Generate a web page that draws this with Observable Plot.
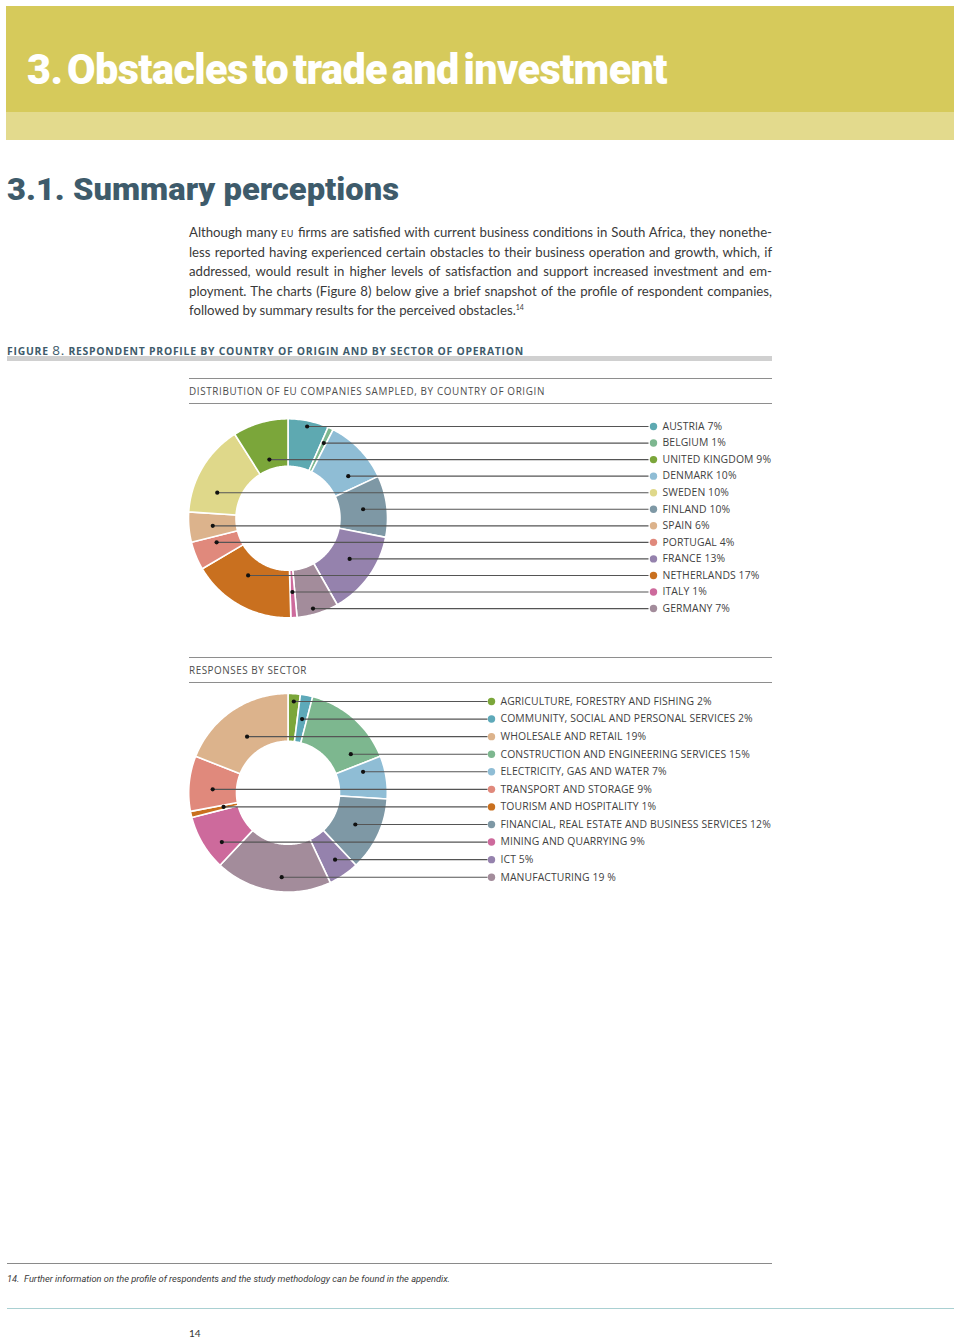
<!DOCTYPE html>
<html>
<head>
<meta charset="utf-8">
<script src="https://cdn.jsdelivr.net/npm/d3@7"></script>
<script src="https://cdn.jsdelivr.net/npm/@observablehq/plot@0.6"></script>
<style>
  body { margin: 0; background: #fff; }
  #page { position: relative; width: 960px; height: 1338px; overflow: hidden; font-family: Lato, "Open Sans", sans-serif; }
  .abs { position: absolute; white-space: nowrap; }
  .rule { position: absolute; height: 0; }
  .pline { position: absolute; left: 189px; width: 583px; white-space: nowrap; text-align: justify; text-align-last: justify; font: 400 13.2px/19.5px Lato, sans-serif; color: #3a3a3a; }
  .pline.last { text-align: left; text-align-last: left; }
  .sc { font-variant: small-caps; letter-spacing: 0.6px; }
  sup { font-size: 7px; line-height: 0; vertical-align: 5px; }
</style>
</head>
<body>
<div id="page">
  <div class="abs" style="left:6px;top:6px;width:948px;height:106px;background:#d6ca5b"></div>
  <div class="abs" style="left:6px;top:112px;width:948px;height:28px;background:#e3da8d"></div>
  <div class="abs fit" data-w="640" style="left:27px;top:49px;font:900 42px/1 Roboto, sans-serif;color:#fff;letter-spacing:-0.6px;word-spacing:-5px">3. Obstacles to trade and investment</div>

  <div class="abs fit" data-w="392" style="left:7px;top:173px;font:900 32px/1 Roboto, sans-serif;color:#3e5b6b">3.1. Summary perceptions</div>

  <div class="pline" style="top:223px">Although many <span class="sc">eu</span> firms are satisfied with current business conditions in South Africa, they nonethe-</div>
  <div class="pline" style="top:242.5px">less reported having experienced certain obstacles to their business operation and growth, which, if</div>
  <div class="pline" style="top:262px">addressed, would result in higher levels of satisfaction and support increased investment and em-</div>
  <div class="pline" style="top:281.5px">ployment. The charts (Figure 8) below give a brief snapshot of the profile of respondent companies,</div>
  <div class="pline last" style="top:301px">followed by summary results for the perceived obstacles.<sup>14</sup></div>

  <div class="abs fitls" data-w="517" style="left:7px;top:342.5px;font:700 10.4px/14px 'Open Sans', sans-serif;color:#3e5b6b;letter-spacing:1px">FIGURE <span style="font-weight:400;font-size:13.5px">8.</span> RESPONDENT PROFILE BY COUNTRY OF ORIGIN AND BY SECTOR OF OPERATION</div>
  <div class="abs" style="left:7px;top:356px;width:765px;height:5px;background:#d0d0d0"></div>

  <div class="rule" style="left:189px;top:377.5px;width:583px;border-top:1.3px solid #8e8e8e"></div>
  <div class="abs fitls" data-w="356" style="left:189px;top:383.5px;font:400 9.9px/14px 'Open Sans', sans-serif;color:#4d4d4d">DISTRIBUTION OF EU COMPANIES SAMPLED, BY COUNTRY OF ORIGIN</div>
  <div class="rule" style="left:189px;top:402.5px;width:583px;border-top:1.3px solid #8e8e8e"></div>
  <div id="chart1" class="abs" style="left:180px;top:410px"></div>

  <div class="rule" style="left:189px;top:656.5px;width:583px;border-top:1.3px solid #8e8e8e"></div>
  <div class="abs fitls" data-w="118" style="left:189px;top:662.5px;font:400 9.9px/14px 'Open Sans', sans-serif;color:#4d4d4d">RESPONSES BY SECTOR</div>
  <div class="rule" style="left:189px;top:681.5px;width:583px;border-top:1.3px solid #8e8e8e"></div>
  <div id="chart2" class="abs" style="left:180px;top:685px"></div>

  <div class="rule" style="left:7px;top:1262.5px;width:765px;border-top:1px solid #8a8a8a"></div>
  <div class="abs fit" data-w="443" style="left:7px;top:1273px;font:italic 400 9.5px/12px Roboto, sans-serif;color:#3a3a3a">14.&nbsp; Further information on the profile of respondents and the study methodology can be found in the appendix.</div>
  <div class="rule" style="left:7px;top:1307.5px;width:947px;border-top:1.5px solid #a9d0d2"></div>
  <div class="abs" style="left:189px;top:1326px;font:400 10px/14px Lato, sans-serif;color:#333">14</div>
</div>
<script>
// ---------- data ----------
const countryNames = ["Austria", "Belgium", "United Kingdom", "Denmark", "Sweden", "Finland", "Spain", "Portugal", "France", "Netherlands", "Italy", "Germany"];
const countryLabels = ["AUSTRIA 7%", "BELGIUM 1%", "UNITED KINGDOM 9%", "DENMARK 10%", "SWEDEN 10%", "FINLAND 10%", "SPAIN 6%", "PORTUGAL 4%", "FRANCE 13%", "NETHERLANDS 17%", "ITALY 1%", "GERMANY 7%"];
// slice sizes as drawn in the picture (%), legend order
const countryShares = [6.6, 0.9, 9, 10.6, 15, 10, 4.9, 4.6, 13.7, 17, 1, 6.8];
const countryColors = ["#5ea9b1", "#7db78f", "#7ba63a", "#8fbdd5", "#dfd88a", "#7e98a5", "#dcb38c", "#e0897c", "#9582ad", "#c9701f", "#cd6a9c", "#a38c9b"];
const countrySliceOrder = ["Austria", "Belgium", "Denmark", "Finland", "France", "Germany", "Italy", "Netherlands", "Portugal", "Spain", "Sweden", "United Kingdom"];

const sectorNames = ["Agriculture, forestry and fishing", "Community, social and personal services", "Wholesale and retail", "Construction and engineering services", "Electricity, gas and water", "Transport and storage", "Tourism and hospitality", "Financial, real estate and business services", "Mining and quarrying", "ICT", "Manufacturing"];
const sectorLabels = ["AGRICULTURE, FORESTRY AND FISHING 2%", "COMMUNITY, SOCIAL AND PERSONAL SERVICES 2%", "WHOLESALE AND RETAIL 19%", "CONSTRUCTION AND ENGINEERING SERVICES 15%", "ELECTRICITY, GAS AND WATER 7%", "TRANSPORT AND STORAGE 9%", "TOURISM AND HOSPITALITY 1%", "FINANCIAL, REAL ESTATE AND BUSINESS SERVICES 12%", "MINING AND QUARRYING 9%", "ICT 5%", "MANUFACTURING 19 %"];
const sectorShares = [2, 2, 19, 15, 7, 9, 1, 12, 9, 5, 19];
const sectorColors = ["#7ba63a", "#5ea9b9", "#dcb38c", "#7db78f", "#8fbdd5", "#e0897c", "#c9701f", "#7e98a5", "#cd6a9c", "#9582ad", "#a38c9b"];
const sectorSliceOrder = ["Agriculture, forestry and fishing", "Community, social and personal services", "Construction and engineering services", "Electricity, gas and water", "Financial, real estate and business services", "ICT", "Manufacturing", "Mining and quarrying", "Tourism and hospitality", "Transport and storage", "Wholesale and retail"];

// ---------- layout ----------
const layout1 = {left: 180, top: 410, width: 600, height: 215, cx: 287.5, cy: 517.8, R: 99.5, r: 52, row0: 426, step: 16.55, lineEnd: 648, legendX: 653, textX: 662, fontSize: 10.4};
const layout2 = {left: 180, top: 685, width: 600, height: 215, cx: 287.5, cy: 792.3, R: 99.3, r: 51.5, row0: 701, step: 17.57, lineEnd: 487, legendX: 491, textX: 500, fontSize: 10.4};

function donut(L, names, labels, shares, colors, order) {
  const TAU = Math.PI * 2;
  const total = d3.sum(shares);
  const info = new Map(names.map((n, i) => [n, {share: shares[i], color: colors[i], label: labels[i]}]));
  let cum = 0;
  const slices = order.map(n => {
    const d = info.get(n);
    const a0 = cum / total * TAU; cum += d.share;
    const a1 = cum / total * TAU;
    return {name: n, a0, a1, color: d.color};
  });
  const sliceBy = new Map(slices.map(s => [s.name, s]));
  const pts = [];
  for (const s of slices) {
    const n = Math.max(2, Math.ceil((s.a1 - s.a0) / (Math.PI / 180)));
    for (let k = 0; k <= n; k++) { const a = s.a0 + (s.a1 - s.a0) * k / n; pts.push({name: s.name, color: s.color, x: L.cx + L.R * Math.sin(a), y: L.cy - L.R * Math.cos(a)}); }
    for (let k = n; k >= 0; k--) { const a = s.a0 + (s.a1 - s.a0) * k / n; pts.push({name: s.name, color: s.color, x: L.cx + L.r * Math.sin(a), y: L.cy - L.r * Math.cos(a)}); }
  }
  function chordMid(s, y) {
    const dy = y - L.cy; let best = null, cur = null;
    const consider = () => { if (cur && (!best || cur.b - cur.a > best.b - best.a)) best = cur; cur = null; };
    for (let dx = -L.R; dx <= L.R; dx += 0.25) {
      const dist = Math.hypot(dx, dy);
      let th = Math.atan2(dx, -dy); if (th < 0) th += TAU;
      const inside = dist <= L.R && dist >= L.r && th >= s.a0 && th <= s.a1;
      if (inside) { if (!cur) cur = {a: dx, b: dx}; else cur.b = dx; } else consider();
    }
    consider();
    return best ? L.cx + (best.a + best.b) / 2 : L.cx;
  }
  const rows = names.map((n, i) => {
    const y = L.row0 + i * L.step;
    return {name: n, label: labels[i], color: colors[i], y, x: chordMid(sliceBy.get(n), y)};
  });
  return Plot.plot({
    width: L.width, height: L.height, margin: 0,
    x: {domain: [L.left, L.left + L.width], range: [0, L.width], axis: null},
    y: {domain: [L.top, L.top + L.height], range: [0, L.height], axis: null},
    color: {type: "identity"},
    style: {fontFamily: "'Open Sans', sans-serif", background: "transparent", letterSpacing: "0.1px", overflow: "visible"},
    marks: [
      Plot.line(pts, {x: "x", y: "y", z: "name", fill: "color", stroke: "white", strokeWidth: 1.6, curve: "linear-closed"}),
      Plot.link(rows, {x1: "x", y1: "y", x2: () => L.lineEnd, y2: "y", stroke: "#555", strokeWidth: 1.15}),
      Plot.dot(rows, {x: "x", y: "y", r: 2.1, fill: "#111", stroke: null}),
      Plot.dot(rows, {x: () => L.legendX, y: "y", r: 3.7, fill: "color", stroke: null}),
      Plot.text(rows, {x: () => L.textX, y: "y", text: "label", textAnchor: "start", fontSize: L.fontSize, fill: "#3f3f3f"})
    ]
  });
}

document.getElementById("chart1").append(donut(layout1, countryNames, countryLabels, countryShares, countryColors, countrySliceOrder));
document.getElementById("chart2").append(donut(layout2, sectorNames, sectorLabels, sectorShares, sectorColors, sectorSliceOrder));

// fit headings to the reference widths
for (const el of document.querySelectorAll(".fit")) {
  const w = +el.dataset.w; const cur = el.getBoundingClientRect().width;
  el.style.transformOrigin = "0 0"; el.style.transform = `scaleX(${w / cur})`;
}
for (const el of document.querySelectorAll(".fitls")) {
  const w = +el.dataset.w; const cur = el.getBoundingClientRect().width;
  const n = el.textContent.length;
  const ls = parseFloat(getComputedStyle(el).letterSpacing) || 0;
  el.style.letterSpacing = (ls + (w - cur) / n) + "px";
}
</script>
</body>
</html>
